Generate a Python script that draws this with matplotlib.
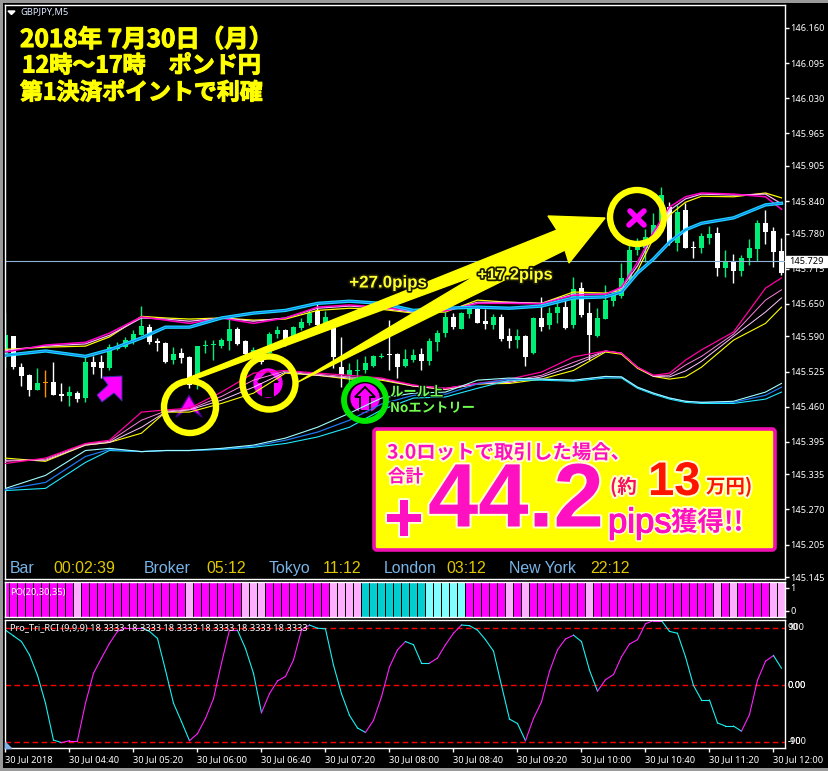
import numpy as np
import matplotlib
matplotlib.use('Agg')
from matplotlib import pyplot as plt
from matplotlib import patheffects as pe
from matplotlib.patches import Circle, Polygon, FancyBboxPatch

W, H = 829, 771
CJK = ['Noto Sans CJK JP', 'DejaVu Sans']

# candles, GBPJPY M5
opens = [145.553,145.590,145.533,145.518,145.490,145.503,145.505,145.483,145.479,145.485,
         145.476,145.542,145.542,145.531,145.566,145.570,145.579,145.592,145.607,145.581,
         145.577,145.546,145.559,145.552,145.515,145.572,145.574,145.572,145.581,145.603,
         145.581,145.550,145.561,145.559,145.594,145.601,145.589,145.605,145.614,145.637,
         145.605,145.605,145.533,145.518,145.526,145.527,145.535,145.552,145.557,145.557,
         145.535,145.546,145.557,145.544,145.579,145.596,145.626,145.603,145.631,145.640,
         145.618,145.611,145.626,145.590,145.583,145.590,145.559,145.624,145.611,145.633,
         145.644,145.611,145.679,145.633,145.590,145.622,145.655,145.664,145.696,145.749,
         145.753,145.772,145.792,145.829,145.762,145.823,145.755,145.753,145.772,145.781,
         145.716,145.729,145.711,145.735,145.751,145.799,145.785,145.748]
closes = [145.592,145.533,145.516,145.490,145.503,145.503,145.481,145.479,145.487,145.474,
          145.542,145.533,145.531,145.570,145.570,145.583,145.594,145.609,145.579,145.577,
          145.542,145.557,145.550,145.500,145.572,145.572,145.574,145.583,145.603,145.576,
          145.557,145.564,145.542,145.594,145.601,145.576,145.607,145.616,145.633,145.611,
          145.626,145.552,145.518,145.527,145.527,145.540,145.553,145.553,145.555,145.533,
          145.548,145.555,145.544,145.581,145.596,145.626,145.607,145.633,145.642,145.614,
          145.613,145.626,145.585,145.581,145.590,145.552,145.624,145.607,145.633,145.644,
          145.605,145.677,145.629,145.592,145.624,145.657,145.666,145.698,145.749,145.755,
          145.774,145.796,145.851,145.762,145.820,145.753,145.753,145.775,145.779,145.716,
          145.729,145.711,145.735,145.753,145.799,145.783,145.746,145.707]
highs = [145.633,145.590,145.540,145.520,145.531,145.527,145.542,145.503,145.498,145.489,
         145.552,145.553,145.555,145.576,145.579,145.589,145.601,145.646,145.613,145.587,
         145.579,145.570,145.568,145.553,145.572,145.583,145.583,145.587,145.622,145.607,
         145.583,145.570,145.564,145.598,145.609,145.603,145.609,145.624,145.638,145.650,
         145.637,145.620,145.589,145.540,145.548,145.553,145.555,145.559,145.620,145.559,
         145.566,145.566,145.568,145.587,145.601,145.635,145.633,145.635,145.648,145.644,
         145.640,145.631,145.631,145.605,145.603,145.592,145.626,145.663,145.644,145.657,
         145.657,145.700,145.690,145.653,145.642,145.685,145.672,145.725,145.764,145.772,
         145.788,145.818,145.866,145.838,145.833,145.836,145.766,145.781,145.794,145.792,
         145.749,145.742,145.740,145.770,145.805,145.823,145.792,145.772]
lows = [145.531,145.529,145.498,145.479,145.490,145.478,145.481,145.470,145.461,145.468,
        145.468,145.520,145.513,145.527,145.564,145.568,145.576,145.592,145.576,145.563,
        145.540,145.539,145.540,145.494,145.492,145.559,145.546,145.568,145.564,145.574,
        145.550,145.542,145.539,145.555,145.587,145.572,145.583,145.601,145.611,145.607,
        145.601,145.531,145.496,145.500,145.515,145.522,145.533,145.550,145.527,145.513,
        145.533,145.542,145.527,145.537,145.563,145.589,145.603,145.603,145.624,145.614,
        145.603,145.603,145.581,145.568,145.568,145.535,145.557,145.600,145.603,145.614,
        145.603,145.605,145.626,145.546,145.589,145.622,145.646,145.661,145.688,145.740,
        145.727,145.768,145.783,145.759,145.748,145.753,145.735,145.744,145.761,145.701,
        145.700,145.688,145.701,145.722,145.729,145.761,145.718,145.703]
orange_candles = [5]

# moving average ribbons, read every few candles
ribbon_idx = [0,5,10,13,17,20,23,27,31,35,39,43,47,51,55,59,63,67,71,75,77,79,81,83,85,87,91,95,97]
upper_fast = [145.561,145.574,145.579,145.596,145.626,145.620,145.614,145.624,145.614,145.624,145.644,145.648,145.644,145.637,145.637,145.651,145.651,145.650,145.666,145.668,145.681,145.727,145.783,145.829,145.848,145.855,145.853,145.848,145.825]
upper_mid = [145.564,145.572,145.576,145.592,145.624,145.622,145.618,145.624,145.618,145.624,145.642,145.646,145.642,145.635,145.637,145.653,145.653,145.651,145.668,145.668,145.679,145.720,145.779,145.823,145.844,145.853,145.851,145.853,145.835]
upper_slow = [145.566,145.570,145.572,145.589,145.627,145.624,145.622,145.624,145.620,145.622,145.638,145.642,145.640,145.633,145.635,145.657,145.653,145.651,145.672,145.670,145.675,145.711,145.772,145.814,145.838,145.849,145.848,145.855,145.846]
upper_cyan = [145.555,145.563,145.553,145.565,145.587,145.607,145.607,145.624,145.633,145.638,145.651,145.655,145.651,145.638,145.642,145.644,145.642,145.646,145.661,145.663,145.672,145.707,145.733,145.764,145.787,145.799,145.809,145.833,145.836]
lower_fast = [145.355,145.365,145.392,145.398,145.450,145.454,145.457,145.487,145.522,145.527,145.522,145.518,145.513,145.500,145.494,145.503,145.511,145.524,145.552,145.563,145.559,145.533,145.518,145.522,145.546,145.565,145.598,145.679,145.698]
lower_mid1 = [145.359,145.363,145.391,145.396,145.435,145.452,145.455,145.479,145.509,145.526,145.520,145.515,145.511,145.500,145.494,145.503,145.507,145.518,145.542,145.563,145.559,145.533,145.518,145.518,145.537,145.553,145.594,145.657,145.676]
lower_mid2 = [145.361,145.361,145.389,145.394,145.422,145.450,145.454,145.472,145.496,145.524,145.518,145.513,145.511,145.498,145.492,145.502,145.505,145.515,145.535,145.563,145.559,145.533,145.516,145.515,145.526,145.544,145.590,145.635,145.661]
lower_slow = [145.365,145.359,145.389,145.394,145.411,145.450,145.450,145.466,145.485,145.522,145.518,145.511,145.509,145.498,145.492,145.502,145.503,145.511,145.527,145.561,145.557,145.531,145.516,145.511,145.515,145.533,145.583,145.614,145.644]
cyan_top = [145.309,145.333,145.379,145.383,145.377,145.379,145.379,145.383,145.389,145.402,145.422,145.448,145.476,145.485,145.487,145.509,145.513,145.511,145.509,145.516,145.515,145.496,145.485,145.476,145.470,145.468,145.470,145.487,145.503]
cyan_mid = [145.307,145.320,145.368,145.381,145.377,145.379,145.379,145.382,145.387,145.398,145.413,145.435,145.465,145.481,145.483,145.502,145.511,145.511,145.509,145.515,145.515,145.496,145.485,145.476,145.470,145.468,145.468,145.481,145.496]
cyan_bot = [145.305,145.309,145.357,145.379,145.377,145.379,145.379,145.381,145.385,145.392,145.404,145.422,145.454,145.476,145.478,145.494,145.509,145.509,145.507,145.513,145.513,145.494,145.483,145.474,145.468,145.466,145.466,145.474,145.487]

# PO histogram state per candle: 0 magenta, 1 pale pink, 2 teal, 3 pale cyan
po_state = [0,0,0,0,0,0,0,0,0,1,0,0,0,0,0,0,0,0,0,0,0,0,0,1,0,0,0,0,0,0,1,1,1,
            0,0,0,0,0,0,0,0,1,1,1,1,2,2,2,2,2,2,2,2,3,3,3,3,3,0,0,0,0,0,1,0,1,
            0,0,0,0,0,0,0,1,0,0,0,0,0,0,0,0,0,0,0,0,0,0,0,1,0,1,0,0,0,0,1,1]
po_colors = ['#FF00FF', '#FFADFF', '#00CED1', '#7FFFFF']

rci = [86,77,68,47,15,-29,-87,-91,-88,-88,-29,18,42,65,84,90,90,90,84,73,23,-29,-58,-88,-77,-53,-22,34,86,86,
       57,18,-44,-14,6,13,39,86,94,89,88,31,-14,-48,-68,-75,-56,-19,28,55,68,63,34,34,42,63,81,94,93,86,
       71,53,-1,-54,-61,-88,-53,-27,21,55,72,78,68,23,-10,8,16,44,64,71,96,101,101,84,81,44,-1,-24,-24,-60,
       -65,-65,-73,-47,7,37,46,26]
rci_levels = [90, 0, -90]

price_ticks = [146.160,146.095,146.030,145.965,145.905,145.840,145.780,145.715,145.650,145.590,
               145.525,145.460,145.395,145.335,145.270,145.205,145.145]
last_price = 145.729
time_ticks = [0,8,16,24,32,40,48,56,64,72,80,88,96]
time_labels = ['30 Jul 2018','30 Jul 04:40','30 Jul 05:20','30 Jul 06:00','30 Jul 06:40','30 Jul 07:20',
               '30 Jul 08:00','30 Jul 08:40','30 Jul 09:20','30 Jul 10:00','30 Jul 10:40','30 Jul 11:20','30 Jul 12:00']
clock_names = ['Bar','Broker','Tokyo','London','New York']
clock_values = ['00:02:39','05:12','11:12','03:12','22:12']
title_lines = ['2018年 7月30日（月）','12時～17時　ポンド円','第1決済ポイントで利確']


def panel(top, bottom, left=5, right=785):
    ax = fig.add_axes([left/W, 1-bottom/H, (right-left)/W, (bottom-top)/H])
    ax.set_facecolor('black')
    for s in ax.spines.values():
        s.set_color('white')
        s.set_linewidth(1)
    return ax


fig = plt.figure(figsize=(W/100, H/100), dpi=100, facecolor='#9a9a9a')
plt.rcParams['font.family'] = ['Noto Sans', 'DejaVu Sans']

# black window with grey frame
bg = fig.add_axes([3/W, 1-768/H, 825/W, 765/H])
bg.set_facecolor('black')
bg.set_xticks([])
bg.set_yticks([])
for s in bg.spines.values():
    s.set_visible(False)

# overlay in picture coordinates for the hand drawn notes
ov = fig.add_axes([0, 0, 1, 1], zorder=10)
ov.set_xlim(0, W)
ov.set_ylim(H, 0)
ov.axis('off')
ov.patch.set_alpha(0)

x = np.arange(len(opens))
xlim = (-0.06, 97.44)

# main chart
ax = panel(5, 579)
ax.set_xlim(*xlim)
ax.set_ylim(145.1415, 146.2025)
o, c, hi, lo = map(np.array, (opens, closes, highs, lows))
colors = ['#00EE76' if cc >= oo else 'white' for oo, cc in zip(o, c)]
for i in orange_candles:
    colors[i] = '#FF9000'
ax.vlines(x, lo, hi, colors=colors, linewidth=1, zorder=2)
ax.bar(x, np.maximum(np.abs(c-o), 0.002), bottom=np.minimum(o, c), width=0.72, color=colors, linewidth=0, zorder=2)

# entry signs go under the ribbons
ax.add_patch(Polygon([(102, 377), (122, 376), (122, 401), (114, 393), (102, 402), (97, 395), (108, 385)],
                     facecolor='#FF00FF', edgecolor='#3030A0', linewidth=0.7, zorder=2.5, transform=ov.transData))
ax.add_patch(Polygon([(189, 395), (202, 417), (189, 408), (176, 417)], facecolor='#FF00FF',
                     edgecolor='#400080', linewidth=1, zorder=2.5, transform=ov.transData))
for cx, cy, rad, fill in [(268, 383, 14, 'black'), (365, 398, 14, '#FF00FF')]:
    ax.add_patch(Circle((cx, cy), rad, color='#FF00FF', zorder=2.5, transform=ov.transData))
    ax.add_patch(Polygon([(cx, cy-11), (cx+10, cy-1), (cx+5, cy-1), (cx+5, cy+13), (cx-5, cy+13), (cx-5, cy-1), (cx-10, cy-1)],
                         facecolor=fill, edgecolor='black', linewidth=1.4, zorder=2.6, transform=ov.transData))

for series, col, lw in [(upper_slow, '#FFFF00', 0.9), (upper_mid, '#FFB0FF', 0.9), (upper_fast, '#FF00C8', 1.1),
                        (upper_cyan, '#19D8FF', 2.4), (upper_cyan, '#1E78F0', 0.7),
                        (lower_slow, '#FFFF00', 0.8), (lower_mid2, '#FFC8FF', 0.7), (lower_mid1, '#FF80E0', 0.7),
                        (lower_fast, '#FF00A0', 0.9),
                        (cyan_bot, '#20E8FF', 0.8), (cyan_mid, '#1E78F0', 0.9), (cyan_top, '#A0FFFF', 0.8)]:
    ax.plot(ribbon_idx, series, color=col, linewidth=lw, zorder=3)

ax.axhline(last_price, color='#8DB4D8', linewidth=0.8, zorder=2)
ax.yaxis.tick_right()
ax.set_yticks(price_ticks)
ax.set_yticklabels(['%.3f' % p for p in price_ticks], fontsize=6.6, color='white')
ax.tick_params(axis='y', length=3, width=1, color='white', pad=1)
ax.set_xticks([])

# PO histogram
ax2 = panel(582, 616.5)
ax2.set_xlim(*xlim)
ax2.set_ylim(-0.25, 1.25)
ax2.bar(x, 1.5, bottom=-0.25, width=0.86, color=[po_colors[s] for s in po_state], linewidth=0, antialiased=False)
ax2.set_xticks([])
ax2.yaxis.tick_right()
ax2.set_yticks([0, 1])
ax2.set_yticklabels(['0', '1'], fontsize=6.6, color='white')
ax2.tick_params(axis='y', length=3, width=1, color='white', pad=1)

# RCI
ax3 = panel(619.5, 748)
ax3.set_xlim(*xlim)
ax3.set_ylim(-99.5, 102.7)
for lev in rci_levels:
    ax3.axhline(lev, color='#FF0000', linewidth=1, linestyle=(0, (4, 2.5)), zorder=1)
rci_arr = np.array(rci)
last_col = '#19F0F0'
for i in range(len(rci_arr)-1):
    d = rci_arr[i+1]-rci_arr[i]
    if d > 0:
        last_col = '#FF20FF'
    elif d < 0:
        last_col = '#19F0F0'
    ax3.plot(x[i:i+2], rci_arr[i:i+2], color=last_col, linewidth=0.8, zorder=2)
ax3.set_xticks(time_ticks)
ax3.set_xticklabels(time_labels, fontsize=6.7, color='white', ha='left')
ax3.tick_params(axis='x', length=3, width=1, color='white', pad=2)
ax3.set_yticks([])

ov.text(20, 12, 'GBPJPY,M5', fontsize=6.7, color='#DDE8FF', va='center')
ov.add_patch(Polygon([(8, 11), (15, 11), (11.5, 14.5)], color='white'))
ov.text(10, 592, 'PO(20,30,35)', fontsize=6.7, color='white', va='center')
ov.text(10, 628, 'Pro_Tri_RCI (9,9,9) 18.3333 18.3333 18.3333 18.3333 18.3333 18.3333', fontsize=6.6, color='white', va='center')
ov.add_patch(Polygon([(5, 742), (5, 748), (11, 748)], color='#7FB0E8'))

# rci axis labels sit on top of each other like in the terminal
for lab, yy in [('100', 627), ('90', 627), ('0.00', 685), ('0.00', 685), ('-100', 741), ('-90', 741)]:
    ov.text(788, yy, lab, fontsize=6.6, color='white', va='center')

# last price box
ov.add_patch(Polygon([(786, 256), (827, 256), (827, 267), (786, 267)], color='white'))
ov.text(789, 261.5, '%.3f' % last_price, fontsize=6.6, color='black', va='center')

# title
for s, yy, xx, fs in zip(title_lines, [40, 66, 93], [20, 22, 20], [17.6, 16.6, 16.5]):
    ov.text(xx, yy, s, fontsize=fs, fontweight='bold', family=CJK, color='#FFFF00', va='center',
            path_effects=[pe.withStroke(linewidth=0.8, foreground='#FFFF00')])

# session clocks
clock_x = [10, 144, 269, 384, 509]
value_x = [53, 206, 323, 446, 590]
for n, v, xa, xb in zip(clock_names, clock_values, clock_x, value_x):
    ov.text(xa, 573, n, fontsize=11.4, family='Liberation Sans', color='#79B4E8', va='baseline')
    ov.text(xb, 573, v, fontsize=11.4, family='Liberation Sans', color='#E0C800', va='baseline')

# big yellow arrows
ov.add_patch(Polygon([(188, 378), (557, 230), (548, 216), (605, 218), (569, 263), (565, 250),
                      (298, 382), (477, 275), (190, 381)], color='#FFFF00', zorder=5))

ov.plot([630, 644], [211, 225], color='#FF00FF', linewidth=4, solid_capstyle='round', zorder=7)
ov.plot([644, 629], [211, 225], color='#FF00FF', linewidth=4, solid_capstyle='round', zorder=7)

for cx, cy, rad, col, lw in [(190, 407, 26, '#FFFF00', 4.6), (269, 383, 26.5, '#FFFF00', 4.6),
                             (637, 217, 27, '#FFFF00', 4.6), (365, 400, 21, '#00E800', 4.2)]:
    ov.add_patch(Circle((cx, cy), rad, fill=False, edgecolor=col, linewidth=lw, zorder=8))

outline = [pe.withStroke(linewidth=2.5, foreground='#1a1a00')]
ov.text(388, 283, '+27.0pips', fontsize=12.2, fontweight='bold', family='Liberation Sans', color='#FFFF30',
        ha='center', va='center', path_effects=outline, zorder=9)
ov.text(515, 275, '+17.2pips', fontsize=11.8, fontweight='bold', family='Liberation Sans', color='#FFFF30',
        ha='center', va='center', path_effects=outline, zorder=9)
green_edge = [pe.withStroke(linewidth=1.5, foreground='black')]
ov.text(390, 392, 'ルール上', fontsize=9.6, fontweight='bold', family=CJK, color='#70FF50', va='center', path_effects=green_edge, zorder=9)
ov.text(390, 408, 'Noエントリー', fontsize=9.6, fontweight='bold', family=CJK, color='#70FF50', va='center', path_effects=green_edge, zorder=9)

# result box
ov.add_patch(FancyBboxPatch((374, 429), 401, 121, boxstyle='round,pad=0,rounding_size=3', facecolor='#FFFF00',
                            edgecolor='#F010B0', linewidth=2.6, zorder=5))
glow = [pe.withStroke(linewidth=3, foreground='#FFFFD0')]
pink = '#FF10C0'
ov.text(387, 453, '3.0ロットで取引した場合、', fontsize=14, fontweight='bold', family=CJK, color=pink, va='center',
        path_effects=glow, zorder=9)
ov.text(388, 477, '合計', fontsize=12.6, fontweight='bold', family=CJK, color=pink, va='center', path_effects=glow, zorder=9)
ov.text(404, 523, '+', fontsize=50, fontweight='bold', family='Liberation Sans', color=pink, ha='center', va='center',
        path_effects=glow, zorder=9)
ov.text(516, 503, '44.2', fontsize=65, fontweight='bold', family='Liberation Sans', color=pink, ha='center', va='center',
        path_effects=glow, zorder=9)
ov.text(610, 487, '(約', fontsize=14, fontweight='bold', family=CJK, color='#F81060', va='center', path_effects=glow, zorder=9)
ov.text(648, 483, '13', fontsize=34, fontweight='bold', family='Liberation Sans', color='#FF1400', va='center', path_effects=glow, zorder=9)
ov.text(706, 487, '万円)', fontsize=14, fontweight='bold', family=CJK, color='#FF1400', va='center', path_effects=glow, zorder=9)
pips_fx = [pe.withStroke(linewidth=3, foreground='#FFFFD0'), pe.withStroke(linewidth=0.8, foreground=pink)]
ov.text(608, 523, 'pips', fontsize=25, family='Liberation Sans', color=pink, va='center', path_effects=pips_fx, zorder=9)
ov.text(671, 523, '獲得!!', fontsize=19, fontweight='bold', family=CJK, color=pink, va='center', path_effects=glow, zorder=9)

fig.savefig('out.png', dpi=100, facecolor=fig.get_facecolor())
